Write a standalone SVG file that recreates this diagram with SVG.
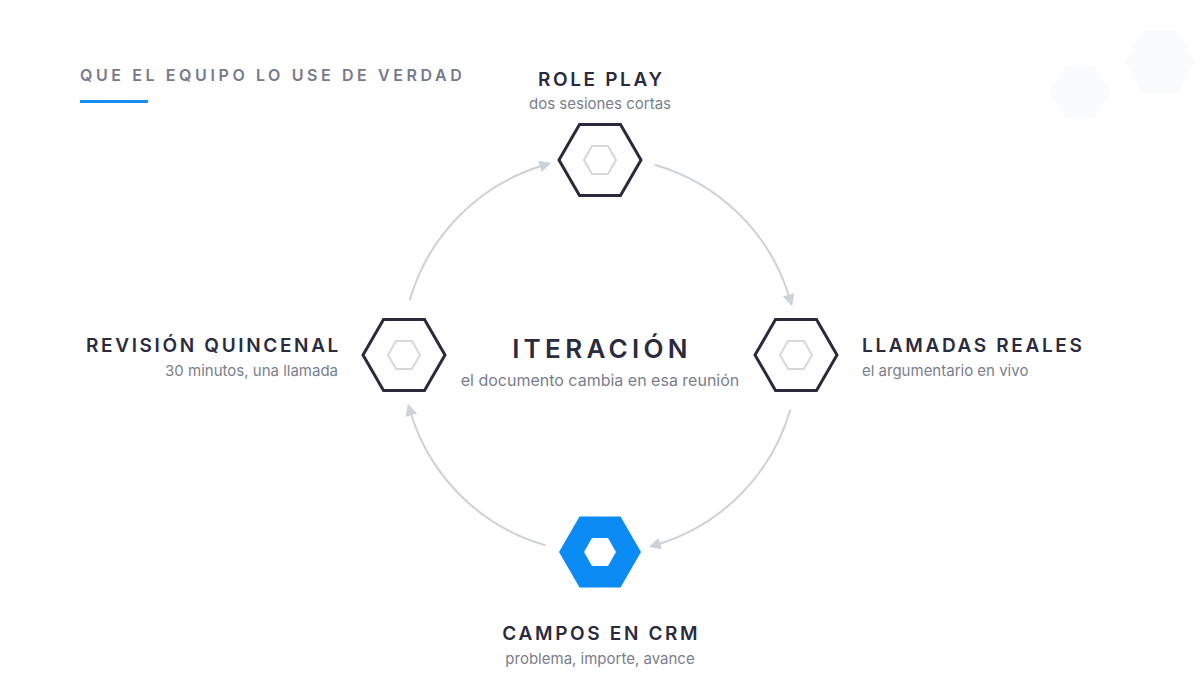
<svg xmlns="http://www.w3.org/2000/svg" width="1200" height="675" viewBox="0 0 1200 675">
<style>
.hdr{font-family:Inter,"Noto Sans",sans-serif;font-size:16px;font-weight:600;fill:#767a8a;letter-spacing:3.6px}
.t{font-family:Inter,"Noto Sans",sans-serif;font-size:19px;font-weight:600;fill:#2b2b3f;letter-spacing:2.65px}
.s{font-family:Inter,"Noto Sans",sans-serif;font-size:15px;fill:#7a7e8b}
.ct{font-family:Inter,"Noto Sans",sans-serif;font-size:26px;font-weight:600;fill:#2b2b3f;letter-spacing:4.3px}
.cs{font-family:Inter,"Noto Sans",sans-serif;font-size:16px;fill:#7a7e8b}
.hex{fill:none;stroke:#2a2a3c;stroke-width:3;stroke-linejoin:miter}
.inner{fill:none;stroke:#d6d7db;stroke-width:2}
.arc{fill:none;stroke:#cdd1d8;stroke-width:2}
</style>
<defs>
<marker id="ah" viewBox="0 0 10 10" refX="2" refY="5" markerWidth="12" markerHeight="12" markerUnits="userSpaceOnUse" orient="auto">
<path d="M0,0 L10,5 L0,10 z" fill="#cdd1d8"/>
</marker>
<polygon id="hx" points="41,0 20.5,35.5 -20.5,35.5 -41,0 -20.5,-35.5 20.5,-35.5"/>
<polygon id="hi" points="16,0 8,13.9 -8,13.9 -16,0 -8,-13.9 8,-13.9"/>
</defs>
<rect width="1200" height="675" fill="#ffffff"/>
<g id="decor" fill="#f5f6f8" opacity="0.4">
<polygon points="1110,92 1095,118 1065,118 1050,92 1065,66 1095,66"/>
<polygon points="1195,62 1177,93 1143,93 1125,62 1143,31 1177,31"/>
</g>
<g id="header">
<text class="hdr" x="80" y="81">QUE EL EQUIPO LO USE DE VERDAD</text>
<rect x="80" y="100" width="68" height="3" fill="#1a8cf0"/>
</g>
<g id="connectors">
<path class="arc" d="M654.6,164.7 A198,198 0 0 1 789.3,297.1" marker-end="url(#ah)"/>
<path class="arc" d="M790.3,409.6 A198,198 0 0 1 657.9,544.3" marker-end="url(#ah)"/>
<path class="arc" d="M545.4,545.3 A198,198 0 0 1 410.7,412.9" marker-end="url(#ah)"/>
<path class="arc" d="M409.7,300.4 A198,198 0 0 1 542.1,165.7" marker-end="url(#ah)"/>
</g>
<g id="node-roleplay">
<use href="#hx" class="hex" x="600" y="160"/>
<use href="#hi" class="inner" x="600" y="160"/>
<text class="t" x="601.3" y="86" text-anchor="middle">ROLE PLAY</text>
<text class="s" x="600" y="109" text-anchor="middle">dos sesiones cortas</text>
</g>
<g id="node-llamadas">
<use href="#hx" class="hex" x="796" y="355"/>
<use href="#hi" class="inner" x="796" y="355"/>
<text class="t" x="862" y="352">LLAMADAS REALES</text>
<text class="s" x="862" y="376">el argumentario en vivo</text>
</g>
<g id="node-campos">
<polygon points="641,552 620.5,587.5 579.5,587.5 559,552 579.5,516.5 620.5,516.5" fill="#0b8cf5"/>
<polygon points="616,552 608,565.9 592,565.9 584,552 592,538.1 608,538.1" fill="#ffffff"/>
<text class="t" x="601.3" y="640" text-anchor="middle">CAMPOS EN CRM</text>
<text class="s" x="600" y="664" text-anchor="middle">problema, importe, avance</text>
</g>
<g id="node-revision">
<use href="#hx" class="hex" x="404" y="355"/>
<use href="#hi" class="inner" x="404" y="355"/>
<text class="t" x="341" y="352" text-anchor="end" letter-spacing="2.4">REVISIÓN QUINCENAL</text>
<text class="s" x="338" y="376" text-anchor="end">30 minutos, una llamada</text>
</g>
<g id="center">
<text class="ct" x="602" y="358" text-anchor="middle">ITERACIÓN</text>
<text class="cs" x="600" y="386" text-anchor="middle">el documento cambia en esa reunión</text>
</g>
</svg>
